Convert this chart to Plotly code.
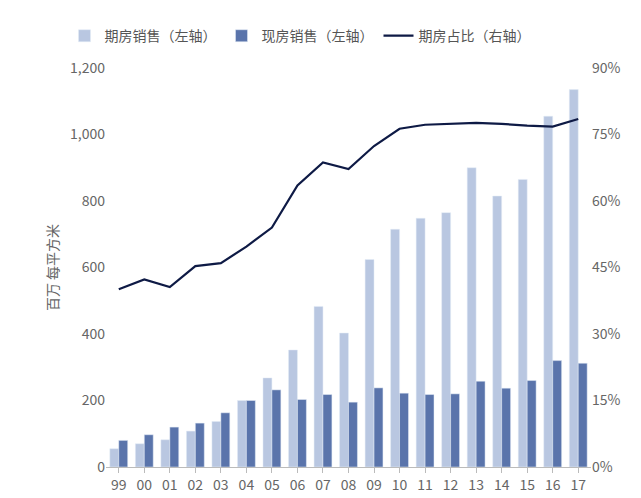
import plotly.graph_objects as go

years = ["99","00","01","02","03","04","05","06","07","08","09","10","11","12","13","14","15","16","17"]
presale = [55,70,82,108,137,200,268,352,483,403,624,715,748,765,900,815,865,1055,1135]
completed = [80,97,120,132,163,200,232,203,218,195,238,222,218,220,258,237,260,320,312]
share = [40.1,42.3,40.6,45.3,46.0,49.7,54.0,63.5,68.7,67.2,72.4,76.3,77.2,77.4,77.6,77.4,77.0,76.8,78.5]

font = "Noto Sans CJK SC"
fig = go.Figure()
fig.add_bar(x=years, y=presale, name="期房销售（左轴）", marker_color="#b9c7e1")
fig.add_bar(x=years, y=completed, name="现房销售（左轴）", marker_color="#5a74ab")
fig.add_scatter(x=years, y=share, name="期房占比（右轴）", yaxis="y2", mode="lines",
                line=dict(color="#0e1a45", width=2.2))
fig.update_layout(
    width=641, height=498, plot_bgcolor="white", paper_bgcolor="white",
    font=dict(family=font, size=14, color="#666"),
    barmode="group", bargap=0.3, bargroupgap=0,
    margin=dict(l=98, r=58, t=48, b=33),
    legend=dict(orientation="h", x=0.4, xanchor="center", y=1.12, yanchor="top",
                font=dict(size=14, color="#555")),
    xaxis=dict(showline=True, linecolor="#bbb", ticks="outside", tickcolor="#bbb"),
    yaxis=dict(range=[0,1200], dtick=200, tickformat=",", showgrid=False,
               title=dict(text="百万 每平方米", font=dict(size=14), standoff=8), zeroline=False),
    yaxis2=dict(range=[0,90], dtick=15, ticksuffix="%", overlaying="y", side="right",
                showgrid=False, zeroline=False),
)
fig.write_html("out.html")
